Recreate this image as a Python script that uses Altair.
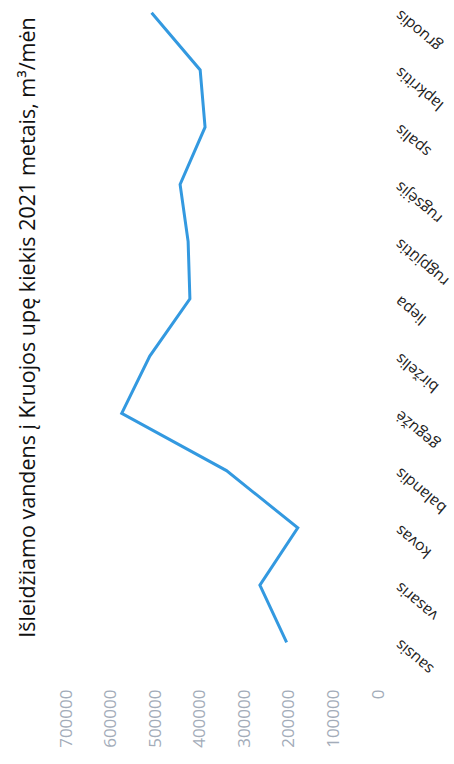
import altair as alt
import pandas as pd

months = ["sausis", "vasaris", "kovas", "balandis", "gegužė", "birželis",
          "liepa", "rugpjūtis", "rugsėjis", "spalis", "lapkritis", "gruodis"]
values = [205000, 265000, 180000, 340000, 575000, 512000,
          422000, 426000, 444000, 388000, 399000, 508000]
tick_values = [0, 100000, 200000, 300000, 400000, 500000, 600000, 700000]
title_text = "Išleidžiamo vandens į Kruojos upę kiekis 2021 metais, m³/mėn"

df = pd.DataFrame({"month": months, "value": values, "order": list(range(len(months)))})

chart = alt.Chart(df).mark_line(color="#3399e0", strokeWidth=3).encode(
    x=alt.X("value:Q",
            scale=alt.Scale(domain=[0, 700000], reverse=True, nice=False),
            axis=alt.Axis(values=tick_values, format="d", labelAngle=270,
                          labelAlign="right", labelBaseline="middle",
                          labelPadding=34, domain=False, ticks=False, grid=False,
                          labelColor="#a3acb9", labelFontSize=17,
                          labelFont="Open Sans", title=None)),
    y=alt.Y("month:N", sort=months[::-1],
            scale=alt.Scale(type="point", padding=0.222),
            axis=alt.Axis(orient="right", labelAngle=220, labelAlign="right",
                          labelBaseline="middle", labelPadding=19,
                          domain=False, ticks=False, grid=False,
                          labelFontSize=15.5, labelFont="Open Sans",
                          labelColor="#222222", title=None)),
    order="order:Q",
).properties(
    width=312, height=655,
    title=alt.TitleParams(text=title_text, orient="left", anchor="middle",
                          fontSize=21.5, font="Open Sans", fontWeight="normal",
                          color="#111111", offset=18),
    autosize="none",
    padding={"left": 66, "top": 0, "right": 76, "bottom": 109},
    background="white",
).configure_view(stroke=None)

chart.save("out.html", embed_options={"renderer": "svg", "actions": False})
